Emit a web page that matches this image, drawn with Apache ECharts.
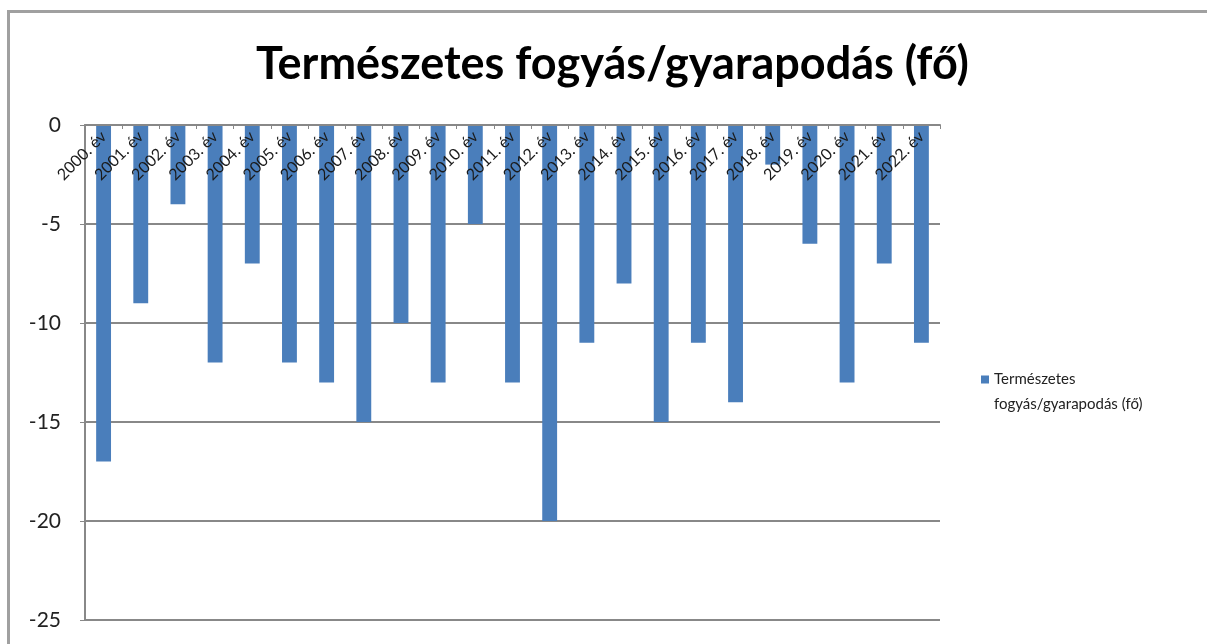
<!DOCTYPE html>
<html>
<head>
<meta charset="utf-8">
<script src="https://cdn.jsdelivr.net/npm/echarts@6/dist/echarts.min.js"></script>
<style>
    html, body { margin: 0; padding: 0; background: #fff; }
    #wrap { position: relative; width: 1207px; height: 644px; overflow: hidden; }
    #frame { position: absolute; left: 7px; top: 10px; width: 1300px; height: 700px;
             border-top: 3px solid #a0a0a0; border-left: 3px solid #a0a0a0; }
    #chart { position: absolute; left: 0; top: 0; width: 1207px; height: 644px; }
</style>
</head>
<body>
<div id="wrap">
    <div id="frame"></div>
    <div id="chart"></div>
</div>
<script>
'use strict';

var seriesName = 'Természetes fogyás/gyarapodás (fő)';
var years = ['2000. év', '2001. év', '2002. év', '2003. év', '2004. év', '2005. év',
    '2006. év', '2007. év', '2008. év', '2009. év', '2010. év', '2011. év',
    '2012. év', '2013. év', '2014. év', '2015. év', '2016. év', '2017. év',
    '2018. év', '2019. év', '2020. év', '2021. év', '2022. év'];
var values = [-17, -9, -4, -12, -7, -12, -13, -15, -10, -13, -5, -13,
    -20, -11, -8, -15, -11, -14, -2, -6, -13, -7, -11];

var font = 'Lato, "Open Sans", sans-serif';
var chart = echarts.init(document.getElementById('chart'));

chart.setOption({
    animation: false,
    title: {
        text: seriesName,
        left: 251,
        top: 37,
        textStyle: { fontFamily: font, fontSize: 45, fontWeight: 'bold', color: '#000' }
    },
    legend: {
        orient: 'vertical',
        left: 976,
        top: 362,
        // kis négyzet az első sor magasságában
        icon: 'path://M0,0L8,0L8,8L0,8Z M0,33L8,33',
        itemWidth: 8,
        itemHeight: 33,
        itemGap: 4,
        formatter: function (name) {
            // két sorba tördelve, mint az eredetin
            return name.replace(' ', '\n');
        },
        textStyle: { fontFamily: font, fontSize: 15, color: '#222', lineHeight: 25 },
        data: [seriesName]
    },
    grid: { left: 85, right: 267, top: 125, bottom: 24 },
    xAxis: {
        type: 'category',
        position: 'top',
        z: 5,
        data: years,
        axisLine: { lineStyle: { color: '#888', width: 2 } },
        axisTick: { show: true, inside: true, length: 4, lineStyle: { color: '#888' } },
        axisLabel: {
            inside: true,
            rotate: 45,
            interval: 0,
            margin: 9,
            fontFamily: font,
            fontSize: 16,
            color: '#1a1a1a'
        }
    },
    yAxis: {
        type: 'value',
        min: -25,
        max: 0,
        interval: 5,
        axisLine: { show: true, lineStyle: { color: '#888', width: 2 } },
        axisTick: { show: true, length: 5, lineStyle: { color: '#888' } },
        axisLabel: { fontFamily: font, fontSize: 21, color: '#222', margin: 24 },
        splitLine: { lineStyle: { color: '#888', width: 2 } }
    },
    series: [{
        name: seriesName,
        type: 'bar',
        data: values,
        barWidth: '40%',
        z: 1,
        itemStyle: { color: '#4a7ebb' }
    }]
});
</script>
</body>
</html>
